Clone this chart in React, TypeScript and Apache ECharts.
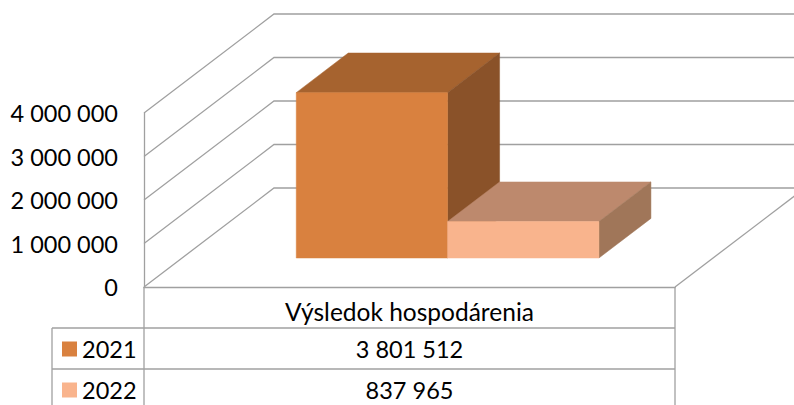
import React, { useEffect, useRef } from "react";
import * as echarts from "echarts";

const categories = ["Výsledok hospodárenia"];
const seriesNames = ["2021", "2022"];
const values2021 = [3801512];
const values2022 = [837965];
const yTicks = [0, 1000000, 2000000, 3000000, 4000000];
const colors = {
  "2021": { front: "#D9813F", top: "#A6632F", side: "#8A5229" },
  "2022": { front: "#F9B48D", top: "#BD896D", side: "#A07659" },
};

const FONT = "Lato";
const GRAY = "#A0A0A0";
const DX = 130;
const DY = 99;
const D_FRONT = 0.293;
const D_BACK = 0.693;
const BAR_FRAC = 0.285;

const fmt = (n: number) => String(n).replace(/\B(?=(\d{3})+(?!\d))/g, " ");

export default function App() {
  const ref = useRef<HTMLDivElement>(null);
  useEffect(() => {
    const chart = echarts.init(ref.current!, null, { renderer: "svg" });
    const W = 794;
    const H = 405;
    const gridLeft = 144;
    const gridRight = 119;
    const gridTop = 113;
    const gridBottom = 118;
    const floorY = H - gridBottom;
    const rightX = W - gridRight;
    const rowH = 41;
    const headerBottom = floorY + rowH;
    const tableLeft = 52;

    const barRender = (sIdx: number) => (params: any, api: any) => {
      const cat = api.value(0);
      const val = api.value(1);
      const base = api.coord([cat, 0]);
      const tp = api.coord([cat, val]);
      const band = api.size([1, 0])[0];
      const w = band * BAR_FRAC;
      const x0 = sIdx === 0 ? base[0] - w : base[0];
      const x1 = x0 + w;
      const fx = DX * D_FRONT, fy = DY * D_FRONT;
      const bx = DX * D_BACK, by = DY * D_BACK;
      const c = (colors as any)[seriesNames[sIdx]];
      const yb = base[1], yt = tp[1];
      return {
        type: "group",
        children: [
          {
            type: "polygon",
            shape: { points: [[x0 + fx, yt - fy], [x1 + fx, yt - fy], [x1 + bx, yt - by], [x0 + bx, yt - by]] },
            style: { fill: c.top, stroke: c.top, lineWidth: 0.5 },
          },
          {
            type: "polygon",
            shape: { points: [[x1 + fx, yb - fy], [x1 + bx, yb - by], [x1 + bx, yt - by], [x1 + fx, yt - fy]] },
            style: { fill: c.side, stroke: c.side, lineWidth: 0.5 },
          },
          {
            type: "polygon",
            shape: { points: [[x0 + fx, yb - fy], [x1 + fx, yb - fy], [x1 + fx, yt - fy], [x0 + fx, yt - fy]] },
            style: { fill: c.front, stroke: c.front, lineWidth: 0.5 },
          },
        ],
      };
    };

    const wallRender = (params: any, api: any) => {
      const v = api.value(0);
      const cs = params.coordSys;
      const p = api.coord([0, v]);
      const y = p[1];
      const children: any[] = [
        {
          type: "polyline",
          shape: { points: [[cs.x, y], [cs.x + DX, y - DY], [cs.x + cs.width + DX, y - DY]] },
          style: { stroke: GRAY, lineWidth: 1.3, fill: "none" },
        },
      ];
      if (v === 0) {
        children.push({
          type: "line",
          shape: { x1: cs.x + cs.width, y1: y, x2: cs.x + cs.width + DX, y2: y - DY },
          style: { stroke: GRAY, lineWidth: 1.3 },
        });
      }
      return { type: "group", children };
    };

    const seriesData = [values2021, values2022];

    const tableLines = [
      { x1: gridLeft, y1: floorY, x2: gridLeft, y2: H },
      { x1: rightX, y1: floorY, x2: rightX, y2: H },
      { x1: tableLeft, y1: headerBottom, x2: tableLeft, y2: H },
      { x1: tableLeft, y1: headerBottom, x2: rightX, y2: headerBottom },
      { x1: tableLeft, y1: headerBottom + rowH, x2: rightX, y2: headerBottom + rowH },
    ].map((s) => ({ type: "line", shape: s, style: { stroke: GRAY, lineWidth: 1.3 }, silent: true }));

    const tableTexts = seriesData.map((arr, i) => ({
      type: "text",
      x: (gridLeft + rightX) / 2,
      y: headerBottom + rowH * i + rowH / 2,
      style: {
        text: fmt(arr[0]),
        fontFamily: FONT,
        fontSize: 23.5,
        fill: "#000",
        align: "center",
        verticalAlign: "middle",
      },
    }));

    chart.setOption({
      animation: false,
      backgroundColor: "#fff",
      grid: { left: gridLeft, right: gridRight, top: gridTop, bottom: gridBottom, containLabel: false },
      legend: {
        data: seriesNames,
        orient: "vertical",
        left: 62,
        top: headerBottom + 9,
        height: 120,
        padding: 0,
        itemWidth: 15,
        itemHeight: 15,
        itemGap: 17,
        icon: "rect",
        textStyle: { fontFamily: FONT, fontSize: 23.5, color: "#000", lineHeight: 24 },
        selectedMode: false,
      },
      xAxis: {
        type: "category",
        data: categories,
        axisLine: { show: true, lineStyle: { color: GRAY, width: 1.3 } },
        axisTick: { show: false },
        axisLabel: { fontFamily: FONT, fontSize: 24.5, color: "#000", margin: 12 },
        splitLine: { show: false },
      },
      yAxis: {
        type: "value",
        min: 0,
        max: 4000000,
        interval: 1000000,
        axisLine: { show: true, lineStyle: { color: GRAY, width: 1.3 } },
        axisTick: { show: false },
        splitLine: { show: false },
        axisLabel: {
          fontFamily: FONT,
          fontSize: 23.5,
          color: "#000",
          margin: 26,
          formatter: (v: number) => fmt(v),
        },
      },
      graphic: [...tableLines, ...tableTexts],
      series: [
        {
          type: "custom",
          name: "walls",
          silent: true,
          clip: false,
          z: 1,
          data: yTicks.map((t) => [t]),
          encode: { y: 0 },
          renderItem: wallRender,
        },
        ...seriesNames.map((name, i) => ({
          type: "custom",
          name,
          clip: false,
          z: 2 + i,
          itemStyle: { color: (colors as any)[name].front },
          data: seriesData[i].map((v, j) => [j, v]),
          encode: { x: 0, y: 1 },
          renderItem: barRender(i),
        })),
      ],
    });
    return () => chart.dispose();
  }, []);
  return (
    <div
      ref={ref}
      style={{ position: "fixed", left: 0, top: 0, width: 794, height: 405, overflow: "hidden" }}
    />
  );
}
